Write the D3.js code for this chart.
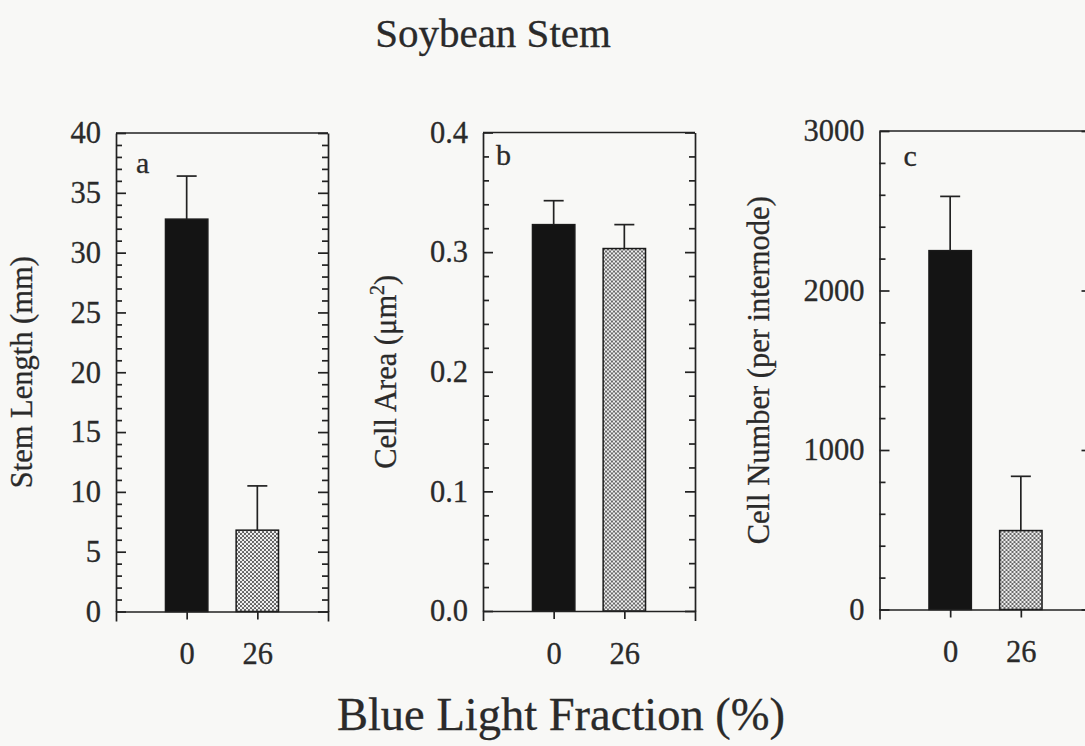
<!DOCTYPE html>
<html>
<head>
<meta charset="utf-8">
<script src="https://cdn.jsdelivr.net/npm/d3@7"></script>
<style>
  body { margin: 0; background: #f8f8f6; }
  svg { display: block; font-family: "Liberation Serif", "Times New Roman", serif; }
  .axis path, .axis line { stroke: #222; stroke-width: 1.7; }
  .axis text { fill: #2a2a2a; font-size: 30.5px; font-family: "Liberation Serif", serif;
               stroke: #2a2a2a; stroke-width: 0.3; }
  .lbl { fill: #2a2a2a; stroke: #2a2a2a; stroke-width: 0.3; }
</style>
</head>
<body>
<div id="chart"></div>
<script>
// blue light fraction (%) categories
const categories = ["0", "26"];

// panel a: stem length (mm)
const stemLength = [32.8, 6.8];
const stemLengthErr = [3.6, 3.7];

// panel b: cell area (um2)
const cellArea = [0.323, 0.303];
const cellAreaErr = [0.020, 0.020];

// panel c: cell number (per internode)
const cellNumber = [2250, 495];
const cellNumberErr = [340, 340];

// axis ticks per panel
const stemTicks = [0, 5, 10, 15, 20, 25, 30, 35, 40];
const areaTicks = [0, 0.1, 0.2, 0.3, 0.4];
const numberTicks = [0, 1000, 2000, 3000];

const W = 1085, H = 746;

const svg = d3.select("#chart").append("svg")
    .attr("width", W)
    .attr("height", H);

// halftone fill for the 26% bars (checker of dots)
let pat = svg.append("defs").append("pattern")
    .attr("id", "dots")
    .attr("patternUnits", "userSpaceOnUse")
    .attr("width", 4).attr("height", 4);
pat.append("rect").attr("width", 4).attr("height", 4).attr("fill", "#efefef");
pat.append("circle").attr("cx", 1).attr("cy", 1).attr("r", 1.05).attr("fill", "#555");
pat.append("circle").attr("cx", 3).attr("cy", 3).attr("r", 1.05).attr("fill", "#555");

const barFills = ["#141414", "url(#dots)"];

const panels = [
    {letter: "a", values: stemLength, errs: stemLengthErr, ticks: stemTicks, minorStep: 1,
     fmt: d3.format("d"), left: 116, top: 133, title: ["Stem Length (mm)"], titleX: 32,
     letterDx: 20, letterDy: 40},
    {letter: "b", values: cellArea, errs: cellAreaErr, ticks: areaTicks, minorStep: 0.02,
     fmt: d3.format(".1f"), left: 483, top: 132.5, title: ["Cell Area (\u03bcm", "2", ")"], titleX: 396,
     letterDx: 13, letterDy: 32},
    {letter: "c", values: cellNumber, errs: cellNumberErr, ticks: numberTicks, minorStep: 200,
     fmt: d3.format("d"), left: 879.5, top: 131, title: ["Cell Number (per internode)"], titleX: 769,
     letterDx: 24, letterDy: 35}
];

const pw = 212, ph = 478.5;

panels.forEach(p => drawPanel(p));

function drawPanel(p) {
    let g = svg.append("g").attr("transform", "translate(" + p.left + "," + p.top + ")");

    let yMax = p.ticks[p.ticks.length - 1];
    let y = d3.scaleLinear().domain([0, yMax]).range([ph, 0]);
    let x = d3.scalePoint().domain(categories).range([0, pw]).padding(1);
    let barW = x.step() * 0.6;

    let minor = d3.range(0, yMax + p.minorStep / 2, p.minorStep)
        .filter(v => !p.ticks.some(t => Math.abs(t - v) < p.minorStep / 10));

    // frame top
    g.append("line")
        .attr("x1", 0).attr("x2", pw).attr("y1", 0).attr("y2", 0)
        .attr("stroke", "#222").attr("stroke-width", 1.7);

    // bars
    g.selectAll(".bar")
        .data(p.values)
        .enter().append("rect")
        .attr("class", "bar")
        .attr("x", (d, i) => x(categories[i]) - barW / 2)
        .attr("y", d => y(d))
        .attr("width", barW)
        .attr("height", d => ph - y(d))
        .attr("fill", (d, i) => barFills[i])
        .attr("stroke", "#1a1a1a")
        .attr("stroke-width", 1.5);

    // error bars (upper only)
    let eb = g.selectAll(".err")
        .data(p.values)
        .enter().append("g")
        .attr("class", "err")
        .attr("stroke", "#222").attr("stroke-width", 1.7);
    eb.append("line")
        .attr("x1", (d, i) => x(categories[i])).attr("x2", (d, i) => x(categories[i]))
        .attr("y1", d => y(d)).attr("y2", (d, i) => y(d + p.errs[i]));
    eb.append("line")
        .attr("x1", (d, i) => x(categories[i]) - 10).attr("x2", (d, i) => x(categories[i]) + 10)
        .attr("y1", (d, i) => y(d + p.errs[i])).attr("y2", (d, i) => y(d + p.errs[i]));

    // left axis, ticks inside
    g.append("g").attr("class", "axis")
        .call(d3.axisLeft(y).tickValues(p.ticks).tickFormat(p.fmt)
            .tickSizeInner(-10).tickSizeOuter(0).tickPadding(15));
    g.append("g").attr("class", "axis minor")
        .call(d3.axisLeft(y).tickValues(minor).tickFormat("")
            .tickSizeInner(-6).tickSizeOuter(0))
        .select(".domain").remove();

    // right axis, ticks inside
    g.append("g").attr("class", "axis")
        .attr("transform", "translate(" + pw + ",0)")
        .call(d3.axisRight(y).tickValues(p.ticks).tickFormat("")
            .tickSizeInner(-10).tickSizeOuter(0));
    g.append("g").attr("class", "axis")
        .attr("transform", "translate(" + pw + ",0)")
        .call(d3.axisRight(y).tickValues(minor).tickFormat("")
            .tickSizeInner(-6).tickSizeOuter(0))
        .select(".domain").remove();

    // bottom axis
    g.append("g").attr("class", "axis")
        .attr("transform", "translate(0," + ph + ")")
        .call(d3.axisBottom(x).tickSizeInner(8).tickSizeOuter(10).tickPadding(23));

    // panel letter
    g.append("text")
        .attr("class", "lbl")
        .attr("x", p.letterDx).attr("y", p.letterDy)
        .attr("font-size", 30)
        .text(p.letter);

    // y title
    let t = svg.append("text")
        .attr("class", "lbl")
        .attr("transform", "translate(" + p.titleX + "," + (p.top + ph / 2) + ") rotate(-90)")
        .attr("text-anchor", "middle")
        .attr("font-size", 30.5);
    t.append("tspan").text(p.title[0]);
    if (p.title.length > 1) {
        t.append("tspan").attr("font-size", 20).attr("dy", -12).text(p.title[1]);
        t.append("tspan").attr("dy", 12).text(p.title[2]);
    }
}

// overall titles
svg.append("text")
    .attr("class", "lbl")
    .attr("x", 493).attr("y", 47)
    .attr("text-anchor", "middle")
    .attr("font-size", 41)
    .text("Soybean Stem");

svg.append("text")
    .attr("class", "lbl")
    .attr("x", 561).attr("y", 730)
    .attr("text-anchor", "middle")
    .attr("font-size", 46.5)
    .text("Blue Light Fraction (%)");
</script>
</body>
</html>
